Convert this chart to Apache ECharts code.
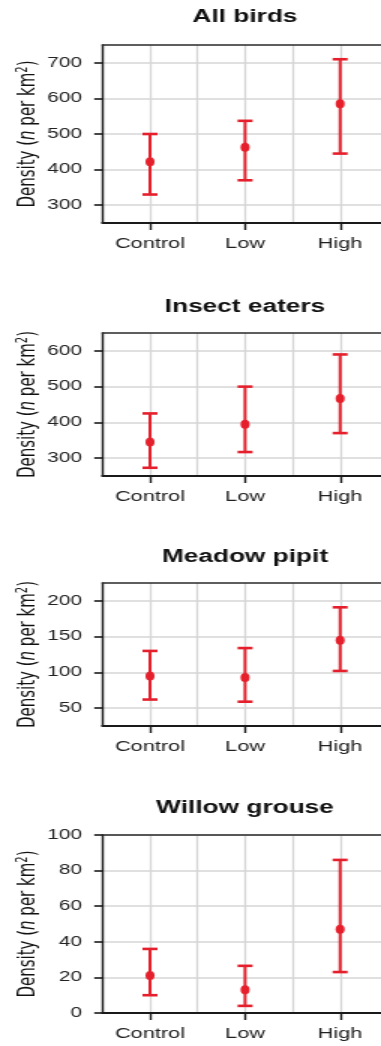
<!DOCTYPE html>
<html>
<head>
<meta charset="utf-8">
<script src="https://cdn.jsdelivr.net/npm/echarts@6/dist/echarts.min.js"></script>
<style>
  html, body { margin: 0; padding: 0; background: #fff; width: 381px; height: 1046px; overflow: hidden; }
  /* the figure is drawn narrow and widened horizontally */
  #chart { width: 254px; height: 1046px; transform: scaleX(1.5); transform-origin: 0 0; }
</style>
</head>
<body>
<div id="chart"></div>
<script>
// ---- data ----
const categories = ['Control', 'Low', 'High'];
const panelTitles = ['All birds', 'Insect eaters', 'Meadow pipit', 'Willow grouse'];

const allBirdsMean  = [422, 463, 585];
const allBirdsLower = [330, 370, 445];
const allBirdsUpper = [500, 537, 710];

const insectMean  = [345, 395, 467];
const insectLower = [273, 317, 370];
const insectUpper = [425, 500, 590];

const pipitMean  = [95, 93, 145];
const pipitLower = [62, 59, 102];
const pipitUpper = [130, 134, 191];

const grouseMean  = [21, 13, 47];
const grouseLower = [10, 4, 23];
const grouseUpper = [36, 26.5, 86];

const allBirdsTicks = [300, 400, 500, 600, 700];
const insectTicks   = [300, 400, 500, 600];
const pipitTicks    = [50, 100, 150, 200];
const grouseTicks   = [0, 20, 40, 60, 80, 100];

const yRanges = [[250, 750], [250, 650], [25, 225], [0, 100]];

// ---- layout (pixels) ----
const SX = 1.5;                 // horizontal widening applied by CSS
const RED = '#e5202c';
const plotLeft = 102.5 / SX;
// category positions run from -0.5 (left spine); the page cuts the last band at 2.43
const xMin = -0.5, xMax = 2.43;
const catIdx = categories.map((c, k) => k);
const panelBoxes = [
  { titleY: 17,  top: 45,  height: 178 },
  { titleY: 307, top: 333, height: 143 },
  { titleY: 557, top: 583, height: 143 },
  { titleY: 808, top: 835, height: 178 }
];
const titleX = (102.5 + 387.5) / 2 / SX;

const means  = [allBirdsMean, insectMean, pipitMean, grouseMean];
const lowers = [allBirdsLower, insectLower, pipitLower, grouseLower];
const uppers = [allBirdsUpper, insectUpper, pipitUpper, grouseUpper];
const ticks  = [allBirdsTicks, insectTicks, pipitTicks, grouseTicks];

const chart = echarts.init(document.getElementById('chart'), null, { renderer: 'canvas' });

const grid = [], xAxis = [], yAxis = [], series = [], graphic = [];
const AXIS = '#1a1a1a', GRIDLINE = '#d6d6d6';
// vertical lines at -0.5 … 2.0; the cut edge at 2.43 stays blank
const vLineColors = [GRIDLINE, GRIDLINE, GRIDLINE, GRIDLINE, GRIDLINE, GRIDLINE, 'rgba(0,0,0,0)'];

function renderErrorBar(params, api) {
  const x = api.value(0);
  const pm = api.coord([x, api.value(1)]);
  const pl = api.coord([x, api.value(2)]);
  const ph = api.coord([x, api.value(3)]);
  const half = 7.5 / SX;
  return {
    type: 'group',
    children: [
      { type: 'line', shape: { x1: pm[0], y1: pl[1], x2: pm[0], y2: ph[1] },
        style: { stroke: RED, lineWidth: 3 / SX } },
      { type: 'line', shape: { x1: pm[0] - half, y1: ph[1], x2: pm[0] + half, y2: ph[1] },
        style: { stroke: RED, lineWidth: 2.6 } },
      { type: 'line', shape: { x1: pm[0] - half, y1: pl[1], x2: pm[0] + half, y2: pl[1] },
        style: { stroke: RED, lineWidth: 2.6 } },
      { type: 'circle', x: pm[0], y: pm[1], scaleX: 1 / SX,
        shape: { cx: 0, cy: 0, r: 4.5 }, style: { fill: RED } }
    ]
  };
}

panelBoxes.forEach((box, i) => {
  grid.push({
    left: plotLeft, right: 0, top: box.top, height: box.height,
    outerBoundsMode: 'none', containLabel: false, show: false
  });

  // bottom axis: category names and ticks at 0, 1, 2
  xAxis.push({
    type: 'value', gridIndex: i, position: 'bottom', min: xMin, max: xMax,
    axisLine: { show: true, onZero: false, lineStyle: { color: AXIS, width: 2 } },
    axisTick: { show: true, customValues: catIdx, length: 7, lineStyle: { color: AXIS, width: 1.4 } },
    axisLabel: {
      customValues: catIdx, formatter: v => categories[Math.round(v)],
      fontFamily: 'Liberation Sans', fontSize: 14.5, color: '#222', margin: 13
    },
    splitLine: { show: false }
  });
  // grid lines at the category centres and halfway between them
  xAxis.push({
    type: 'value', gridIndex: i, position: 'bottom', min: xMin, max: xMax, interval: 0.5,
    axisLine: { show: false, onZero: false }, axisTick: { show: false }, axisLabel: { show: false },
    splitLine: { show: true, lineStyle: { color: vLineColors, width: 1.3 } }
  });
  // top frame line
  xAxis.push({
    type: 'value', gridIndex: i, position: 'top', min: xMin, max: xMax,
    axisLine: { show: true, onZero: false, lineStyle: { color: '#2a2a2a', width: 1.6 } },
    axisTick: { show: false }, axisLabel: { show: false }, splitLine: { show: false }
  });

  yAxis.push({
    type: 'value', gridIndex: i, min: yRanges[i][0], max: yRanges[i][1],
    axisLine: { show: true, onZero: false, lineStyle: { color: AXIS, width: 1.4 } },
    axisTick: { show: true, length: 5.5, customValues: ticks[i], lineStyle: { color: AXIS, width: 1.6 } },
    axisLabel: { customValues: ticks[i], fontFamily: 'Liberation Sans', fontSize: 13.8, color: '#222', margin: 13.7 },
    splitLine: { show: true, lineStyle: { color: GRIDLINE, width: 1.5 } },
    name: '{a|Density (}{i|n}{a| per km}{s|2}{a|)}',
    nameLocation: 'middle', nameRotate: 90, nameGap: 40, nameMoveOverlap: false,
    nameTextStyle: {
      rich: {
        a: { fontFamily: 'DejaVu Sans', fontSize: 15, color: '#111', lineHeight: 18 },
        i: { fontFamily: 'DejaVu Sans', fontSize: 15, fontStyle: 'italic', color: '#111', lineHeight: 18 },
        s: { fontFamily: 'DejaVu Sans', fontSize: 10, color: '#111', lineHeight: 10, verticalAlign: 'top' }
      }
    }
  });

  series.push({
    type: 'custom', xAxisIndex: 3 * i, yAxisIndex: i,
    renderItem: renderErrorBar,
    encode: { x: 0, y: [1, 2, 3] },
    data: catIdx.map(k => [k, means[i][k], lowers[i][k], uppers[i][k]]),
    z: 10
  });

  graphic.push({
    type: 'text', x: titleX, y: box.titleY,
    style: {
      text: panelTitles[i], fill: '#111',
      font: 'bold 17.5px "Liberation Sans"', align: 'center', verticalAlign: 'middle'
    }
  });
});

chart.setOption({
  backgroundColor: '#fff',
  animation: false,
  grid, xAxis, yAxis, series, graphic
});
</script>
</body>
</html>
